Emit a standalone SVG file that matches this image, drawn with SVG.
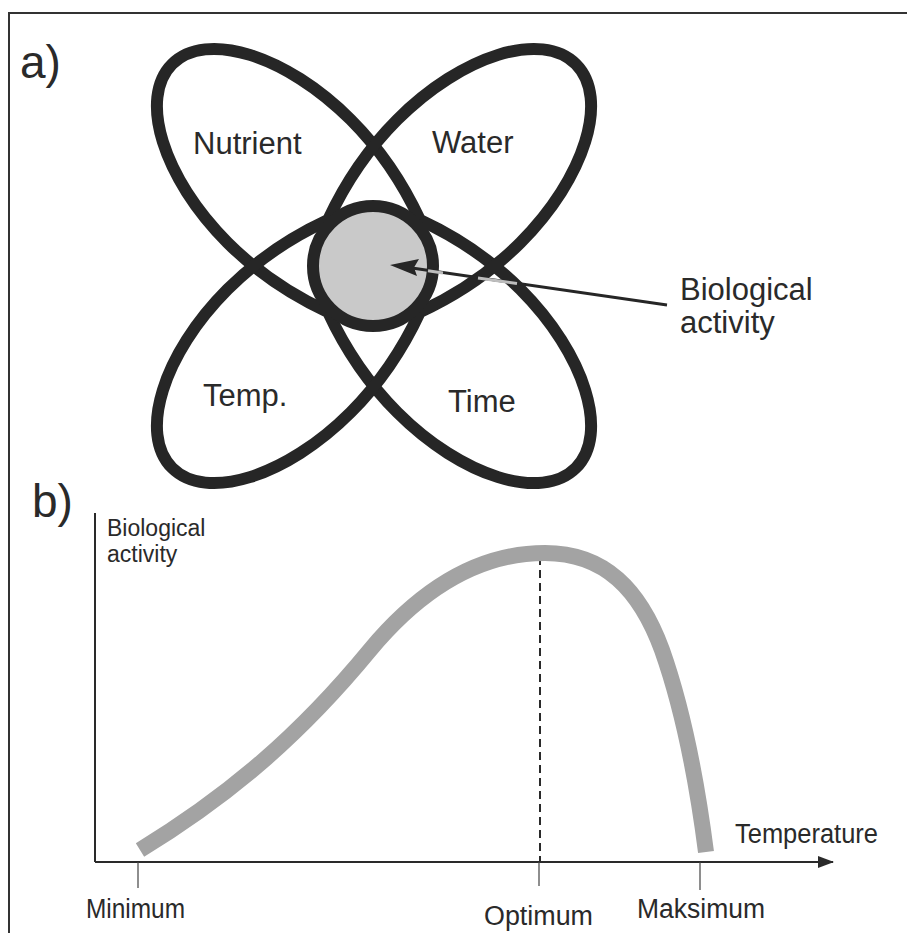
<svg xmlns="http://www.w3.org/2000/svg" width="907" height="933" viewBox="0 0 907 933">
  <style>
    .frame { stroke: #333; stroke-width: 2; fill: none; }
    .loop { fill: none; stroke: #262626; stroke-width: 12; stroke-linejoin: round; }
    .core { fill: #c9c9c9; stroke: #262626; stroke-width: 12; }
    .lbl { font-family: "Liberation Sans", Arial, sans-serif; fill: #2a2a2a; }
    .big { font-size: 31px; }
    .panel { font-size: 46px; }
    .small { font-size: 27px; }
    .axis { stroke: #2a2a2a; stroke-width: 2; fill: none; }
    .tick { stroke: #444; stroke-width: 1.2; fill: none; }
    .curve { fill: none; stroke: #a3a3a3; stroke-width: 16; }
    .guide { stroke: #2a2a2a; stroke-width: 2; stroke-dasharray: 8 5; fill: none; }
  </style>
  <defs>
    <!-- long loop drawn along the local x axis; its waist sits on the core ring -->
    <path id="loopShape" d="M0,-65 C30,-76 70,-87 120,-87 C211.6,-87 285.5,-48 285.5,0 C285.5,48 211.6,87 120,87 C70,87 30,76 0,65 C-30,76 -70,87 -120,87 C-211.6,87 -285.5,48 -285.5,0 C-285.5,-48 -211.6,-87 -120,-87 C-70,-87 -30,-76 0,-65 Z"/>
    <marker id="axisHead" markerWidth="16" markerHeight="12" refX="15" refY="6" orient="auto" markerUnits="userSpaceOnUse">
      <path d="M0,0 L16,6 L0,12 Z" fill="#2a2a2a"/>
    </marker>
  </defs>

  <rect width="907" height="933" fill="#ffffff"/>
  <!-- border -->
  <path class="frame" d="M907,13 H9 V933"/>

  <!-- panel a -->
  <text class="lbl panel" x="20" y="78">a)</text>

  <g id="loop-nw-se">
    <use href="#loopShape" class="loop" transform="translate(374 266) rotate(45)"/>
  </g>
  <g id="loop-ne-sw">
    <use href="#loopShape" class="loop" transform="translate(374 266) rotate(-45)"/>
  </g>
  <g id="biological-activity-core">
    <circle class="core" cx="373" cy="266" r="60"/>
  </g>

  <g id="factor-labels">
    <text class="lbl big" x="193" y="154">Nutrient</text>
    <text class="lbl big" x="432" y="153">Water</text>
    <text class="lbl big" x="203" y="406">Temp.</text>
    <text class="lbl big" x="448" y="412">Time</text>
  </g>

  <g id="connectors">
    <!-- pointer to the core -->
    <line x1="667" y1="305" x2="412" y2="268" stroke="#262626" stroke-width="3"/>
    <line x1="428" y1="270.8" x2="443" y2="273" stroke="#bdbdbd" stroke-width="3"/>
    <line x1="478" y1="278" x2="517" y2="283.6" stroke="#bdbdbd" stroke-width="3"/>
    <path d="M390,265 L419,259 L414,267.5 L417,276 Z" fill="#262626"/>
  </g>
  <g id="pointer-label">
    <text class="lbl big" x="680" y="300">Biological</text>
    <text class="lbl big" x="680" y="333">activity</text>
  </g>

  <!-- panel b -->
  <text class="lbl panel" x="32" y="517">b)</text>

  <g id="chart-axes">
    <path class="axis" d="M95,513 V862"/>
    <path class="axis" d="M95,862 H833" marker-end="url(#axisHead)"/>
    <path class="tick" d="M138,862 V888 M539,862 V886 M700,862 V890"/>
    <path class="guide" d="M540,557 V862"/>
  </g>

  <g id="activity-curve">
    <path class="curve" d="M140,850 C230,795 300,735 370,650 C430,578 490,553 545,553 C605,553 640,590 662,650 C685,715 698,790 706,852"/>
  </g>

  <g id="chart-labels">
    <text class="lbl" font-size="23" x="107" y="536">Biological</text>
    <text class="lbl" font-size="23" x="107" y="562">activity</text>
    <text class="lbl small" x="735" y="843" textLength="143" lengthAdjust="spacingAndGlyphs">Temperature</text>
    <text class="lbl small" x="86" y="918" textLength="99" lengthAdjust="spacingAndGlyphs">Minimum</text>
    <text class="lbl small" x="484" y="925" textLength="109" lengthAdjust="spacingAndGlyphs">Optimum</text>
    <text class="lbl small" x="637" y="918" textLength="128" lengthAdjust="spacingAndGlyphs">Maksimum</text>
  </g>
</svg>
